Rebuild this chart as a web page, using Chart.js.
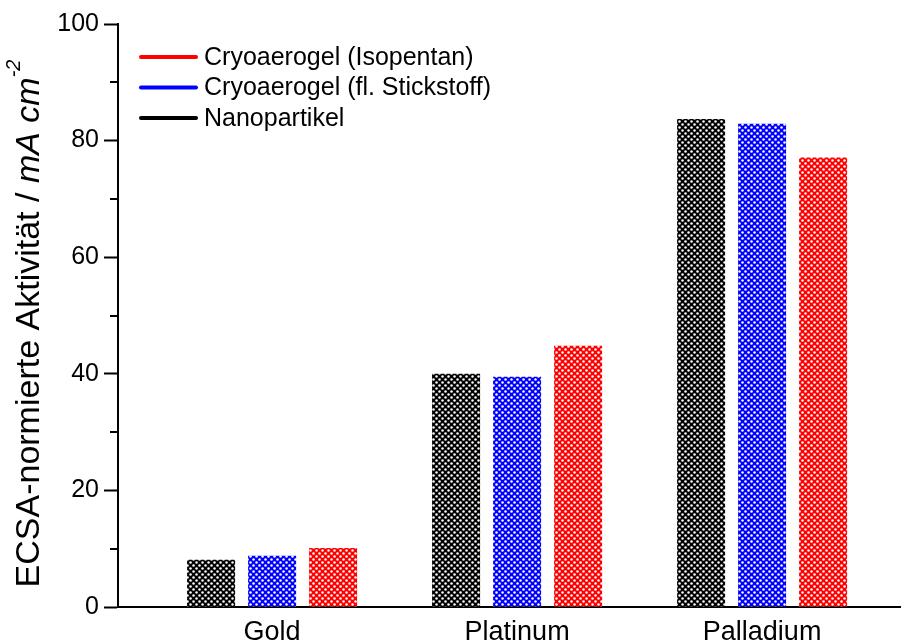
<!DOCTYPE html>
<html>
<head>
<meta charset="utf-8">
<script src="https://cdn.jsdelivr.net/npm/chart.js@4/dist/chart.umd.min.js"></script>
<style>
  html, body { margin: 0; padding: 0; background: #fff; }
  #wrap { width: 901px; height: 641px; }
</style>
</head>
<body>
<div id="wrap"><canvas id="ecsa_chart" width="901" height="641"></canvas></div>
<script>
// --- Daten ---
const categories = ["Gold", "Platinum", "Palladium"];
const categoryPos = [1, 2, 3];
const seriesNames = ["Nanopartikel", "Cryoaerogel (fl. Stickstoff)", "Cryoaerogel (Isopentan)"];
const seriesColors = ["#000000", "#0000ff", "#ff0000"];
const nanopartikel = [8.1, 40.0, 83.7];
const stickstoff = [8.8, 39.5, 82.9];
const isopentan = [10.1, 44.8, 77.1];
const yMajorTicks = [0, 20, 40, 60, 80, 100];
const yMinorTicks = [10, 30, 50, 70, 90];

const FONT = "'Liberation Sans', Arial, sans-serif";

// Punktmuster wie im Original (farbige Fläche mit weißen Punkten)
function makeDotPattern(color) {
  const c = document.createElement("canvas");
  c.width = 6;
  c.height = 6;
  const g = c.getContext("2d");
  g.fillStyle = color;
  g.fillRect(0, 0, 6, 6);
  g.fillStyle = "#ffffff";
  [[1.5, 1.5], [4.5, 4.5]].forEach(([px, py]) => {
    g.beginPath();
    g.arc(px, py, 1.25, 0, Math.PI * 2);
    g.fill();
  });
  return g.createPattern(c, "repeat");
}

const seriesValues = [nanopartikel, stickstoff, isopentan];
const datasets = seriesValues.map((vals, i) => ({
  label: seriesNames[i],
  data: vals.map((v, k) => ({ x: categoryPos[k], y: v })),
  backgroundColor: makeDotPattern(seriesColors[i]),
  borderWidth: 0,
  categoryPercentage: 0.747,
  barPercentage: 0.787,
}));

// kleine Ticks zwischen den Hauptticks
const minorTickPlugin = {
  id: "minorTicks",
  afterDraw(chart) {
    const { ctx, chartArea } = chart;
    const y = chart.scales.y;
    ctx.save();
    ctx.strokeStyle = "#000";
    ctx.lineWidth = 2;
    yMinorTicks.forEach((v) => {
      const py = Math.round(y.getPixelForValue(v));
      ctx.beginPath();
      ctx.moveTo(chartArea.left - 8, py);
      ctx.lineTo(chartArea.left, py);
      ctx.stroke();
    });
    ctx.restore();
  },
};

// Achsentitel mit kursivem Teil und Hochzahl
const yTitlePlugin = {
  id: "yTitle",
  afterDraw(chart) {
    const { ctx, chartArea } = chart;
    const size = 34;
    const parts = [
      { t: "ECSA-normierte Aktivität / ", f: `${size}px ${FONT}`, dy: 0 },
      { t: "mA cm", f: `italic ${size}px ${FONT}`, dy: 0 },
      { t: "-2", f: `italic ${Math.round(size * 0.58)}px ${FONT}`, dy: -size * 0.45 },
    ];
    ctx.save();
    let total = 0;
    parts.forEach((p) => {
      ctx.font = p.f;
      p.w = ctx.measureText(p.t).width;
      total += p.w;
    });
    ctx.translate(30, (chartArea.top + chartArea.bottom) / 2 + 8);
    ctx.rotate(-Math.PI / 2);
    ctx.fillStyle = "#000";
    ctx.textBaseline = "middle";
    let x = -total / 2;
    parts.forEach((p) => {
      ctx.font = p.f;
      ctx.fillText(p.t, x, p.dy);
      x += p.w;
    });
    ctx.restore();
  },
};

// Legende mit Linien, umgekehrte Reihenfolge
const lineLegendPlugin = {
  id: "lineLegend",
  afterDraw(chart) {
    const { ctx, chartArea } = chart;
    ctx.save();
    ctx.font = `25px ${FONT}`;
    ctx.textBaseline = "middle";
    const order = [2, 1, 0];
    order.forEach((idx, row) => {
      const y = chartArea.top + 33 + row * 30.5;
      ctx.strokeStyle = seriesColors[idx];
      ctx.lineWidth = 4;
      ctx.lineCap = "round";
      ctx.beginPath();
      ctx.moveTo(chartArea.left + 23, y);
      ctx.lineTo(chartArea.left + 78, y);
      ctx.stroke();
      ctx.fillStyle = "#000";
      ctx.fillText(seriesNames[idx], chartArea.left + 86, y + 1);
    });
    ctx.restore();
  },
};

new Chart(document.getElementById("ecsa_chart"), {
  type: "bar",
  data: { datasets },
  options: {
    responsive: false,
    animation: false,
    layout: { padding: { top: 24, right: 0, bottom: 0, left: 0 } },
    plugins: {
      legend: { display: false },
      tooltip: { enabled: false },
    },
    scales: {
      x: {
        type: "linear",
        position: "bottom",
        min: 0.371,
        max: 3.567,
        offset: false,
        grid: { display: false, drawTicks: false, offset: false },
        border: { display: true, color: "#000", width: 2 },
        afterBuildTicks: (scale) => {
          scale.ticks = categoryPos.map((v) => ({ value: v }));
        },
        afterFit: (scale) => {
          scale.height = 34;
        },
        ticks: {
          autoSkip: false,
          maxRotation: 0,
          padding: 9,
          color: "#000",
          font: { family: FONT, size: 27 },
          callback: (v) => categories[categoryPos.indexOf(v)] || "",
        },
      },
      y: {
        min: 0,
        max: 100,
        afterBuildTicks: (scale) => {
          scale.ticks = yMajorTicks.map((v) => ({ value: v }));
        },
        afterFit: (scale) => {
          scale.width = 118;
        },
        grid: {
          drawOnChartArea: false,
          drawTicks: true,
          tickLength: 14,
          tickWidth: 2,
          tickColor: "#000",
        },
        border: { display: true, color: "#000", width: 2 },
        ticks: {
          padding: 5,
          color: "#000",
          font: { family: FONT, size: 25 },
        },
      },
    },
  },
  plugins: [minorTickPlugin, yTitlePlugin, lineLegendPlugin],
});
</script>
</body>
</html>
